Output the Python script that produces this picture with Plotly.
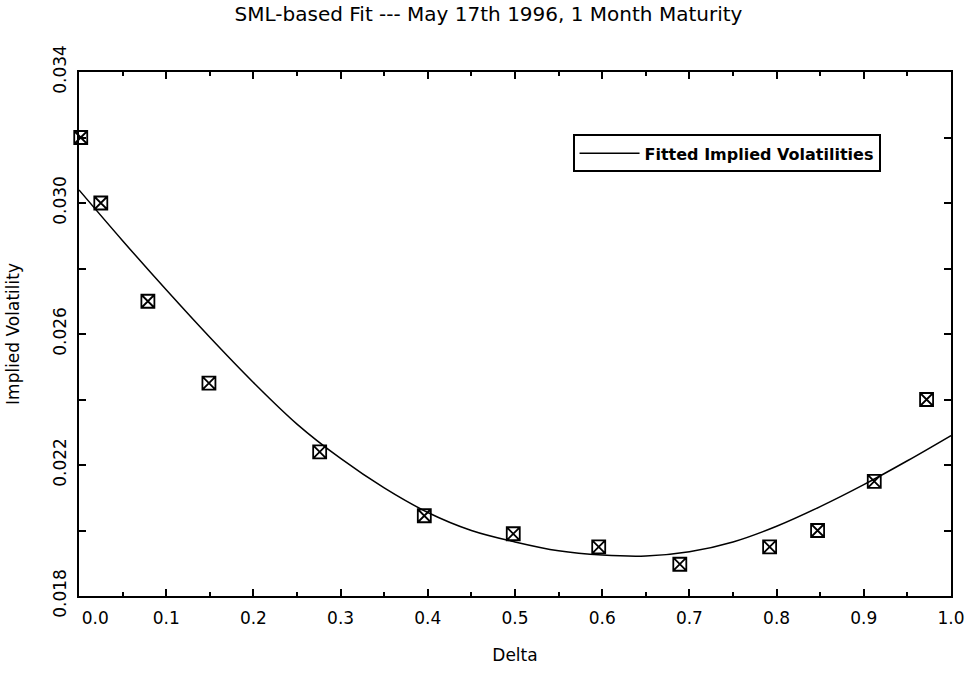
import plotly.graph_objects as go

# Observed implied volatilities (markers)
delta_obs = [0.002, 0.025, 0.079, 0.149, 0.276, 0.396, 0.498, 0.596, 0.689, 0.792, 0.847, 0.912, 0.972]
vol_obs = [0.0320, 0.0300, 0.0270, 0.0245, 0.0224, 0.02045, 0.0199, 0.0195, 0.01897, 0.0195, 0.0200, 0.0215, 0.0240]

# Fitted implied volatility curve
delta_fit = [0.0, 0.05, 0.1, 0.15, 0.2, 0.25, 0.3, 0.35, 0.4, 0.45, 0.5,
             0.55, 0.6, 0.65, 0.7, 0.75, 0.8, 0.85, 0.9, 0.95, 1.0]
vol_fit = [0.0304, 0.02885, 0.02735, 0.0259, 0.02452, 0.02325, 0.0222, 0.0213, 0.02055, 0.0200, 0.01965,
           0.01938, 0.01925, 0.01922, 0.01935, 0.01965, 0.02013, 0.02073, 0.0214, 0.02213, 0.0229]

x_ticks = [0.0, 0.1, 0.2, 0.3, 0.4, 0.5, 0.6, 0.7, 0.8, 0.9, 1.0]
x_labels = ["\u00a0\u00a0\u00a0\u00a0\u00a0\u00a00.0", "0.1", "0.2", "0.3", "0.4", "0.5", "0.6", "0.7", "0.8", "0.9", "1.0"]
y_ticks = [0.018, 0.022, 0.026, 0.030, 0.034]
y_labels = ["0.018", "0.022", "0.026", "0.030", "0.034"]

FONT = "DejaVu Sans"

fig = go.Figure()
fig.add_trace(go.Scatter(
    x=delta_fit, y=vol_fit, mode="lines", name="Fitted Implied Volatilities",
    line=dict(color="black", width=1.5, shape="spline", smoothing=1.0),
))
fig.add_trace(go.Scatter(
    x=delta_obs, y=vol_obs, mode="markers", showlegend=False,
    marker=dict(symbol="square-x-open", size=13, color="black", line=dict(width=1.8, color="black")),
    cliponaxis=False,
))

fig.update_layout(
    width=977, height=674,
    margin=dict(l=78, r=21, t=72, b=74),
    paper_bgcolor="white", plot_bgcolor="white",
    font=dict(family=FONT, color="black"),
    title=dict(text="SML-based Fit --- May 17th 1996, 1 Month Maturity",
               x=0.5, xanchor="center", y=0.99, yanchor="top",
               font=dict(size=20, family=FONT, color="black")),
    showlegend=True,
    legend=dict(x=0.566, y=0.881, xanchor="left", yanchor="top",
                bordercolor="black", borderwidth=2, bgcolor="white",
                font=dict(size=16, family=FONT, color="black", weight="bold"),
                itemwidth=60),
)
fig.update_xaxes(
    range=[0, 1.0], showline=True, linecolor="black", linewidth=2, mirror="ticks",
    tickmode="array", tickvals=x_ticks, ticktext=x_labels,
    ticks="inside", ticklen=7, tickwidth=1.5, tickcolor="black",
    minor=dict(dtick=0.05, tick0=0, ticks="inside", ticklen=4, tickcolor="black", showgrid=False),
    showgrid=False, zeroline=False, ticklabelstandoff=6,
    tickfont=dict(size=17, family=FONT),
    title=dict(text="Delta", font=dict(size=17, family=FONT), standoff=22),
)
fig.update_yaxes(
    range=[0.018, 0.034], showline=True, linecolor="black", linewidth=2, mirror="ticks",
    tickmode="array", tickvals=y_ticks, ticktext=y_labels, tickangle=-90,
    ticks="inside", ticklen=7, tickwidth=1.5, tickcolor="black",
    minor=dict(dtick=0.002, tick0=0.018, ticks="inside", ticklen=7, tickcolor="black", showgrid=False),
    showgrid=False, zeroline=False, ticklabelstandoff=4,
    tickfont=dict(size=17, family=FONT),
    title=dict(text="Implied Volatility", font=dict(size=17, family=FONT), standoff=26),
)

fig.write_html("out.html")
